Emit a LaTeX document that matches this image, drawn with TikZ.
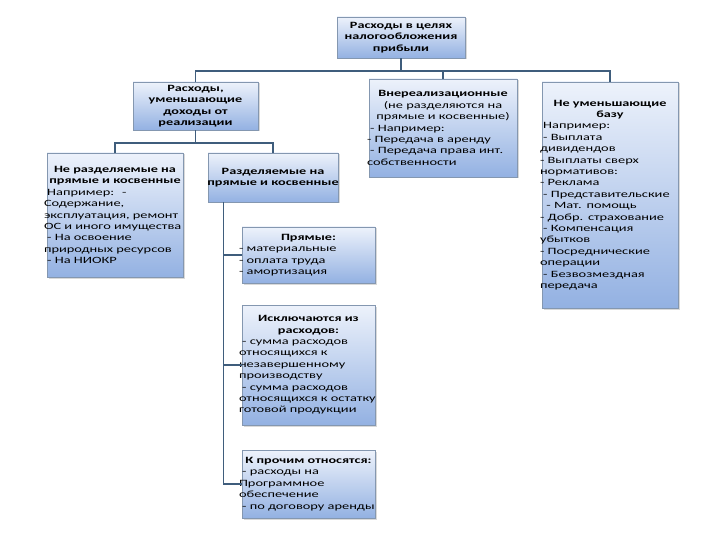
\documentclass[tikz,border=0pt]{standalone}
\usepackage{fontspec}
\setmainfont{Carlito}[FakeStretch=1.5, BoldFeatures={FakeStretch=1.48}]
\usetikzlibrary{shadows}
\definecolor{boxtop}{HTML}{EDF2FB}
\definecolor{boxbot}{HTML}{93B1E2}
\definecolor{boxline}{HTML}{8497B0}
\definecolor{conn}{HTML}{3F5D7C}
\tikzset{
  box/.style={rectangle, draw=boxline, line width=0.7pt, top color=boxtop, bottom color=boxbot,
    drop shadow={shadow xshift=1.5pt, shadow yshift=-1.5pt, opacity=0.3},
    inner xsep=-3pt, inner ysep=2pt, align=left, font=\fontsize{9.6}{11.4}\selectfont},
  link/.style={draw=conn, line width=1.6pt}
}
\newcommand{\hd}[1]{{\centering\bfseries #1\par}}
\begin{document}
\begin{tikzpicture}[x=1pt,y=1pt]
\useasboundingbox (0,0) rectangle (720,-540);
\node[box, minimum width=128, minimum height=41, text width=130] (b1) at (401,-37.5)
  {\hd{Расходы в целях\\ налогообложения\\ прибыли}};
\node[box, minimum width=125, minimum height=48, text width=127] (b2) at (195.5,-106)
  {\hd{Расходы,\\ уменьшающие\\ доходы от\\ реализации}};
\node[box, minimum width=148, minimum height=98, text width=152] (b3) at (443,-128)
  {\hd{Внереализационные}{\centering(не разделяются на\\ прямые и косвенные)\par}
   \ - Например:\\- Передача в аренду\\ \ - Передача права инт.\\собственности};
\node[box, minimum width=136, minimum height=226, text width=140] (b4) at (610,-195)
  {\hd{Не уменьшающие\\ базу}
   \ Например:\\ \ - Выплата\\дивидендов\\- Выплаты сверх\\нормативов:\\- Реклама\\
   \ - Представительские\\ \ \ - Мат. помощь\\- Добр. страхование\\ \ - Компенсация\\убытков\\
   - Посреднические\\операции\\ \ - Безвозмездная\\передача};
\node[box, minimum width=136, minimum height=124, text width=142] (b5) at (115,-215)
  {\hd{Не разделяемые на\\ прямые и косвенные}
   \ Например: \ -\\Содержание,\\эксплуатация, ремонт\\ОС и иного имущества\\
   \ - На освоение\\природных ресурсов\\ \ - На НИОКР};
\node[box, minimum width=130, minimum height=49, text width=134] (b6) at (273,-177.5)
  {\hd{Разделяемые на\\ прямые и косвенные}};
\node[box, minimum width=133, minimum height=56, text width=139] (b7) at (308.5,-255)
  {\hd{Прямые:}- материальные\\- оплата труда\\ - амортизация};
\node[box, minimum width=133, minimum height=120, text width=139] (b8) at (308.5,-365)
  {\hd{Исключаются из\\ расходов:}
   \ - сумма расходов\\относящихся к\\незавершенному\\производству\\
   \ - сумма расходов\\относящихся к остатку\\готовой продукции};
\node[box, minimum width=133, minimum height=68, text width=139] (b9) at (308.5,-484)
  {\hd{К прочим относятся:}
   \ - расходы на\\Программное\\обеспечение\\ \ - по договору аренды};
% connectors level 1
\draw[link] (b1.south) -- (b1.south |- 0,-71) -| (b2.north);
\draw[link] (b1.south) -- (b1.south |- 0,-71) -| (b3.north);
\draw[link] (b1.south) -- (b1.south |- 0,-71) -| (b4.north);
% level 2
\draw[link] (b2.south) -- (b2.south |- 0,-143) -| (b5.north);
\draw[link] (b2.south) -- (b2.south |- 0,-143) -| (b6.north);
% level 3
\coordinate (t) at ([xshift=16pt]b6.south west);
\draw[link] (t) |- (b7.west);
\draw[link] (t) |- (b8.west);
\draw[link] (t) |- (b9.west);
\end{tikzpicture}
\end{document}
